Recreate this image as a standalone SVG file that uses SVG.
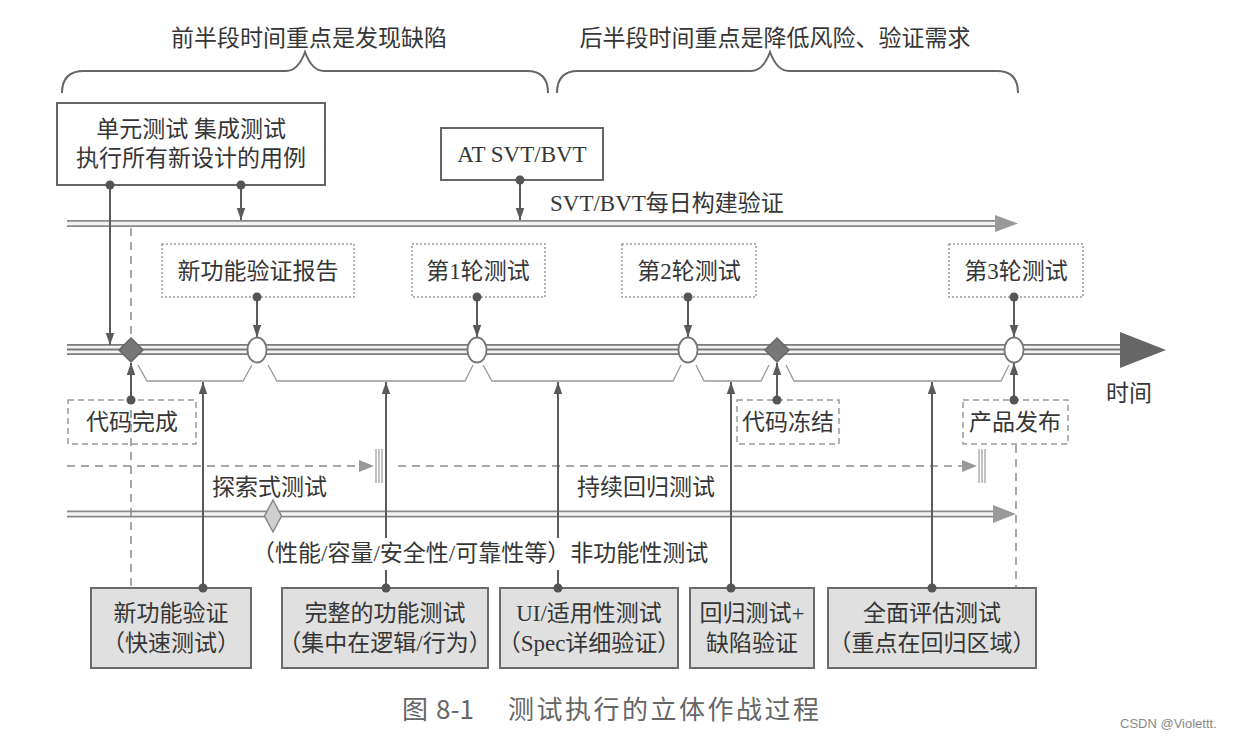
<svg xmlns="http://www.w3.org/2000/svg" width="1240" height="740" viewBox="0 0 1240 740">
<defs>
<style>
.t{font-family:"Liberation Serif","Noto Sans CJK SC",serif;font-size:23px;fill:#363636}
.tc{text-anchor:middle}
.cap{font-family:"Noto Sans CJK SC","Liberation Sans",sans-serif;font-size:26px;fill:#666}
.conn{stroke:#5a5a5a;stroke-width:2;fill:none}
.dot{fill:#555}
.box{fill:#fff;stroke:#666;stroke-width:2}
.gbox{fill:#e0e0e0;stroke:#6a6a6a;stroke-width:2}
.dotted{fill:#fff;stroke:#9a9a9a;stroke-width:1.5;stroke-dasharray:2 2}
.dashed{fill:#fff;stroke:#9a9a9a;stroke-width:1.5;stroke-dasharray:6 4}
.brace{stroke:#666;stroke-width:2;fill:none}
.brk{stroke:#999;stroke-width:1.3;fill:none}
.dash{stroke:#8c8c8c;stroke-width:1.5;stroke-dasharray:8 6;fill:none}
.tick{stroke:#999;stroke-width:1.2}
</style>
<marker id="ah" markerUnits="userSpaceOnUse" markerWidth="12" markerHeight="17" refX="17" refY="6" orient="auto" viewBox="0 0 17 12">
<path d="M0,0 L17,6 L0,12 z" fill="#5a5a5a"/>
</marker>
</defs>
<rect width="1240" height="740" fill="#fff"/>

<!-- top braces and titles -->
<g id="title-first-half">
<text class="t tc" x="309" y="46" font-size="24">前半段时间重点是发现缺陷</text>
<path class="brace" d="M62,93 Q62,71 84,71 L286,71 Q298,71 305,52 Q312,71 324,71 L527,71 Q548,71 548,93"/>
</g>
<g id="title-second-half">
<text class="t tc" x="775" y="46" font-size="24">后半段时间重点是降低风险、验证需求</text>
<path class="brace" d="M557,93 Q557,71 578,71 L751,71 Q763,71 770,52 Q777,71 789,71 L997,71 Q1018,71 1018,93"/>
</g>

<!-- tubes / timelines -->
<g id="svt-line">
<line x1="67" y1="223.5" x2="998" y2="223.5" stroke="#8a8a8a" stroke-width="7"/>
<line x1="67" y1="223.5" x2="998" y2="223.5" stroke="#f2f2f2" stroke-width="3.5"/>
<polygon points="995,215 1018,223.5 995,232" fill="#9a9a9a"/>
<text class="t" x="550" y="211" font-size="24">SVT/BVT每日构建验证</text>
</g>

<g id="regression-line">
<line x1="67" y1="514" x2="996" y2="514" stroke="#8a8a8a" stroke-width="7"/>
<line x1="67" y1="514" x2="996" y2="514" stroke="#f2f2f2" stroke-width="3.5"/>
<polygon points="993,505 1016,514 993,523" fill="#9a9a9a"/>
</g>

<g id="explore-line">
<path class="dash" d="M67,466 H362"/>
<polygon points="359,460 374,466 359,472" fill="#999"/>
<line class="tick" x1="376" y1="449" x2="376" y2="483"/>
<line class="tick" x1="379" y1="449" x2="379" y2="483"/>
<line class="tick" x1="382" y1="449" x2="382" y2="483"/>
<path class="dash" d="M398,466 H962"/>
<polygon points="962,460 977,466 962,472" fill="#999"/>
<line class="tick" x1="979" y1="449" x2="979" y2="483"/>
<line class="tick" x1="982" y1="449" x2="982" y2="483"/>
<line class="tick" x1="985" y1="449" x2="985" y2="483"/>
</g>

<!-- dashed verticals -->
<g id="dashed-verticals">
<path class="dash" d="M131,228 V588" stroke-dasharray="6 5"/>
<path class="dash" d="M1016,445 V588" stroke-dasharray="6 5"/>
</g>

<g id="main-timeline">
<line x1="67" y1="349.5" x2="1122" y2="349.5" stroke="#7a7a7a" stroke-width="11"/>
<line x1="67" y1="349.5" x2="1122" y2="349.5" stroke="#f4f4f4" stroke-width="7.5"/>
<line x1="67" y1="349.5" x2="1122" y2="349.5" stroke="#7a7a7a" stroke-width="1.8"/>
<polygon points="1120,332 1166,350 1120,368" fill="#666"/>
<text class="t" x="1106" y="401">时间</text>
</g>

<g id="brackets">
<polyline class="brk" points="138,365 147,381 243,381 252,365"/>
<polyline class="brk" points="268,365 277,381 465,381 473,365"/>
<polyline class="brk" points="483,365 492,381 673,381 681,365"/>
<polyline class="brk" points="696,365 704,381 761,381 769,365"/>
<polyline class="brk" points="786,365 794,381 1001,381 1009,365"/>
</g>

<!-- connectors -->
<g id="connectors">
<path class="conn" d="M110,185 V345" marker-end="url(#ah)"/>
<path class="conn" d="M241,185 V220" marker-end="url(#ah)"/>
<path class="conn" d="M520,180 V220" marker-end="url(#ah)"/>
<path class="conn" d="M257,297 V337" marker-end="url(#ah)"/>
<path class="conn" d="M477,297 V337" marker-end="url(#ah)"/>
<path class="conn" d="M688,297 V337" marker-end="url(#ah)"/>
<path class="conn" d="M1014,297 V337" marker-end="url(#ah)"/>
<path class="conn" d="M131,400 V363" marker-end="url(#ah)"/>
<path class="conn" d="M777,400 V363" marker-end="url(#ah)"/>
<path class="conn" d="M1014,400 V363" marker-end="url(#ah)"/>
<path class="conn" d="M203,588 V382" marker-end="url(#ah)"/>
<path class="conn" d="M386,588 V570"/>
<path class="conn" d="M386,538 V382" marker-end="url(#ah)"/>
<path class="conn" d="M558,588 V570"/>
<path class="conn" d="M558,538 V382" marker-end="url(#ah)"/>
<path class="conn" d="M731,588 V382" marker-end="url(#ah)"/>
<path class="conn" d="M932,588 V382" marker-end="url(#ah)"/>
</g>

<!-- milestones -->
<g id="milestone-code-complete"><polygon points="131,338 143,350 131,362 119,350" fill="#777" stroke="#666" stroke-width="1.5"/></g>
<g id="milestone-report"><ellipse cx="257" cy="350" rx="9.5" ry="12.5" fill="#fff" stroke="#777" stroke-width="1.8"/></g>
<g id="milestone-round1"><ellipse cx="477" cy="350" rx="9.5" ry="12.5" fill="#fff" stroke="#777" stroke-width="1.8"/></g>
<g id="milestone-round2"><ellipse cx="688" cy="350" rx="9.5" ry="12.5" fill="#fff" stroke="#777" stroke-width="1.8"/></g>
<g id="milestone-freeze"><polygon points="777,338 789,350 777,362 765,350" fill="#777" stroke="#666" stroke-width="1.5"/></g>
<g id="milestone-round3"><ellipse cx="1014" cy="350" rx="9.5" ry="12.5" fill="#fff" stroke="#777" stroke-width="1.8"/></g>
<g id="milestone-nonfunc"><polygon points="273,500 281.5,516 273,532 264.5,516" fill="#cfcfcf" stroke="#888" stroke-width="1.5"/></g>

<!-- top boxes -->
<g id="unit-integration">
<rect class="box" x="57" y="103" width="268" height="82"/>
<text class="t tc" x="191" y="137">单元测试 集成测试</text>
<text class="t tc" x="191" y="166">执行所有新设计的用例</text>
</g>
<g id="at-svt">
<rect class="box" x="441" y="128" width="162" height="52"/>
<text class="t tc" x="522" y="162" font-size="23">AT SVT/BVT</text>
</g>

<g id="report"><rect class="dotted" x="162" y="244" width="192" height="53"/><text class="t tc" x="258" y="279">新功能验证报告</text></g>
<g id="round1"><rect class="dotted" x="412" y="244" width="133" height="53"/><text class="t tc" x="478" y="279">第1轮测试</text></g>
<g id="round2"><rect class="dotted" x="622" y="244" width="134" height="53"/><text class="t tc" x="689" y="279">第2轮测试</text></g>
<g id="round3"><rect class="dotted" x="949" y="244" width="134" height="53"/><text class="t tc" x="1016" y="279">第3轮测试</text></g>

<g id="code-complete"><rect class="dashed" x="68" y="400" width="128" height="44" fill-opacity="0"/><text class="t tc" x="132" y="430">代码完成</text></g>
<g id="code-freeze"><rect class="dashed" x="737" y="400" width="102" height="44"/><text class="t tc" x="788" y="430">代码冻结</text></g>
<g id="release"><rect class="dashed" x="963" y="400" width="105" height="44" fill-opacity="0"/><text class="t tc" x="1015" y="430">产品发布</text></g>

<g id="labels">
<text class="t" x="212" y="495">探索式测试</text>
<text class="t" x="577" y="495">持续回归测试</text>
<text class="t" x="252" y="561">（性能/容量/安全性/可靠性等）非功能性测试</text>
</g>

<!-- bottom boxes -->
<g id="new-feature"><rect class="gbox" x="91" y="588" width="160" height="80"/><text class="t tc" x="171" y="621">新功能验证</text><text class="t tc" x="171" y="651">（快速测试）</text></g>
<g id="full-func"><rect class="gbox" x="282" y="588" width="206" height="80"/><text class="t tc" x="385" y="621">完整的功能测试</text><text class="t tc" x="385" y="651">（集中在逻辑/行为）</text></g>
<g id="ui-test"><rect class="gbox" x="500" y="588" width="178" height="80"/><text class="t tc" x="589" y="621">UI/适用性测试</text><text class="t tc" x="589" y="651">（Spec详细验证）</text></g>
<g id="regression"><rect class="gbox" x="690" y="588" width="124" height="80"/><text class="t tc" x="752" y="621">回归测试+</text><text class="t tc" x="752" y="651">缺陷验证</text></g>
<g id="full-eval"><rect class="gbox" x="828" y="588" width="208" height="80"/><text class="t tc" x="932" y="621">全面评估测试</text><text class="t tc" x="932" y="651">（重点在回归区域）</text></g>

<!-- dots -->
<g id="dots">
<circle class="dot" cx="110" cy="185" r="4.5"/>
<circle class="dot" cx="241" cy="185" r="4.5"/>
<circle class="dot" cx="520" cy="180" r="4.5"/>
<circle class="dot" cx="257" cy="297" r="4.5"/>
<circle class="dot" cx="477" cy="297" r="4.5"/>
<circle class="dot" cx="688" cy="297" r="4.5"/>
<circle class="dot" cx="1014" cy="297" r="4.5"/>
<circle class="dot" cx="131" cy="400" r="4.5"/>
<circle class="dot" cx="777" cy="400" r="4.5"/>
<circle class="dot" cx="1014" cy="400" r="4.5"/>
<circle class="dot" cx="203" cy="588" r="4.5"/>
<circle class="dot" cx="386" cy="588" r="4.5"/>
<circle class="dot" cx="558" cy="588" r="4.5"/>
<circle class="dot" cx="731" cy="588" r="4.5"/>
<circle class="dot" cx="932" cy="588" r="4.5"/>
</g>

<g id="caption">
<text class="cap" x="402" y="719">图</text>
<text class="cap" x="436" y="719" font-size="27">8-1</text>
<text class="cap" x="508" y="719" letter-spacing="2.5">测试执行的立体作战过程</text>
<text x="1120" y="728" font-family="Liberation Sans, sans-serif" font-size="13" fill="#888">CSDN @Violettt.</text>
</g>
</svg>
